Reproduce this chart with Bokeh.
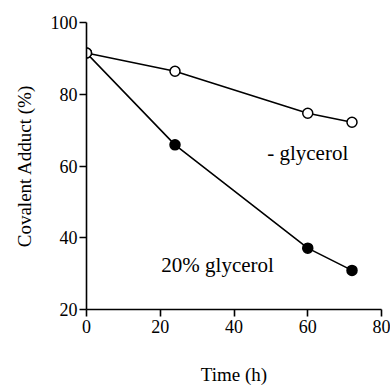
from bokeh.plotting import figure
from bokeh.models import Range1d, FixedTicker, Label
from bokeh.embed import file_html
from bokeh.resources import INLINE

time_h = [0, 24, 60, 72]
no_glycerol = [91.5, 86.4, 74.7, 72.2]
glycerol_20 = [91.5, 65.9, 37.1, 30.9]
x_ticks = [0, 20, 40, 60, 80]
y_ticks = [20, 40, 60, 80, 100]

FONT = "Liberation Serif"

p = figure(width=390, height=387, output_backend="svg", toolbar_location=None,
           x_range=Range1d(0, 80), y_range=Range1d(20, 100),
           min_border_left=86, min_border_right=9, min_border_top=22, min_border_bottom=72)
p.outline_line_color = None
p.grid.visible = False
p.background_fill_color = "white"

p.line(time_h, glycerol_20, line_color="black", line_width=1.6)
p.line(time_h, no_glycerol, line_color="black", line_width=1.6)
p.scatter(time_h, glycerol_20, size=10, fill_color="black", line_color="black", line_width=1.5)
p.scatter(time_h, no_glycerol, size=10, fill_color="white", line_color="black", line_width=1.5)

for ax in (p.xaxis[0], p.yaxis[0]):
    ax.axis_line_color = "black"
    ax.axis_line_width = 1.6
    ax.major_tick_line_width = 1.6
    ax.major_tick_out = 7
    ax.major_tick_in = 0
    ax.minor_tick_line_color = None
    ax.major_label_text_font = FONT
    ax.major_label_text_font_size = "18px"
    ax.major_label_text_color = "black"
    ax.axis_label_text_font = FONT
    ax.axis_label_text_font_size = "19px"
    ax.axis_label_text_font_style = "normal"
    ax.axis_label_text_color = "black"

p.xaxis.ticker = FixedTicker(ticks=x_ticks)
p.yaxis.ticker = FixedTicker(ticks=y_ticks)
p.xaxis.axis_label = "Time (h)"
p.yaxis.axis_label = "Covalent Adduct (%)"
p.xaxis.axis_label_standoff = 28
p.yaxis.axis_label_standoff = 13
p.xaxis.major_label_standoff = 3
p.yaxis.major_label_standoff = 2

p.add_layout(Label(x=49, y=63.7, text="- glycerol", text_font=FONT,
                   text_font_size="21px", text_color="black", text_baseline="alphabetic"))
p.add_layout(Label(x=20.3, y=32.3, text="20% glycerol", text_font=FONT,
                   text_font_size="21px", text_color="black", text_baseline="alphabetic"))

open("out.html", "w").write(file_html(p, INLINE))
